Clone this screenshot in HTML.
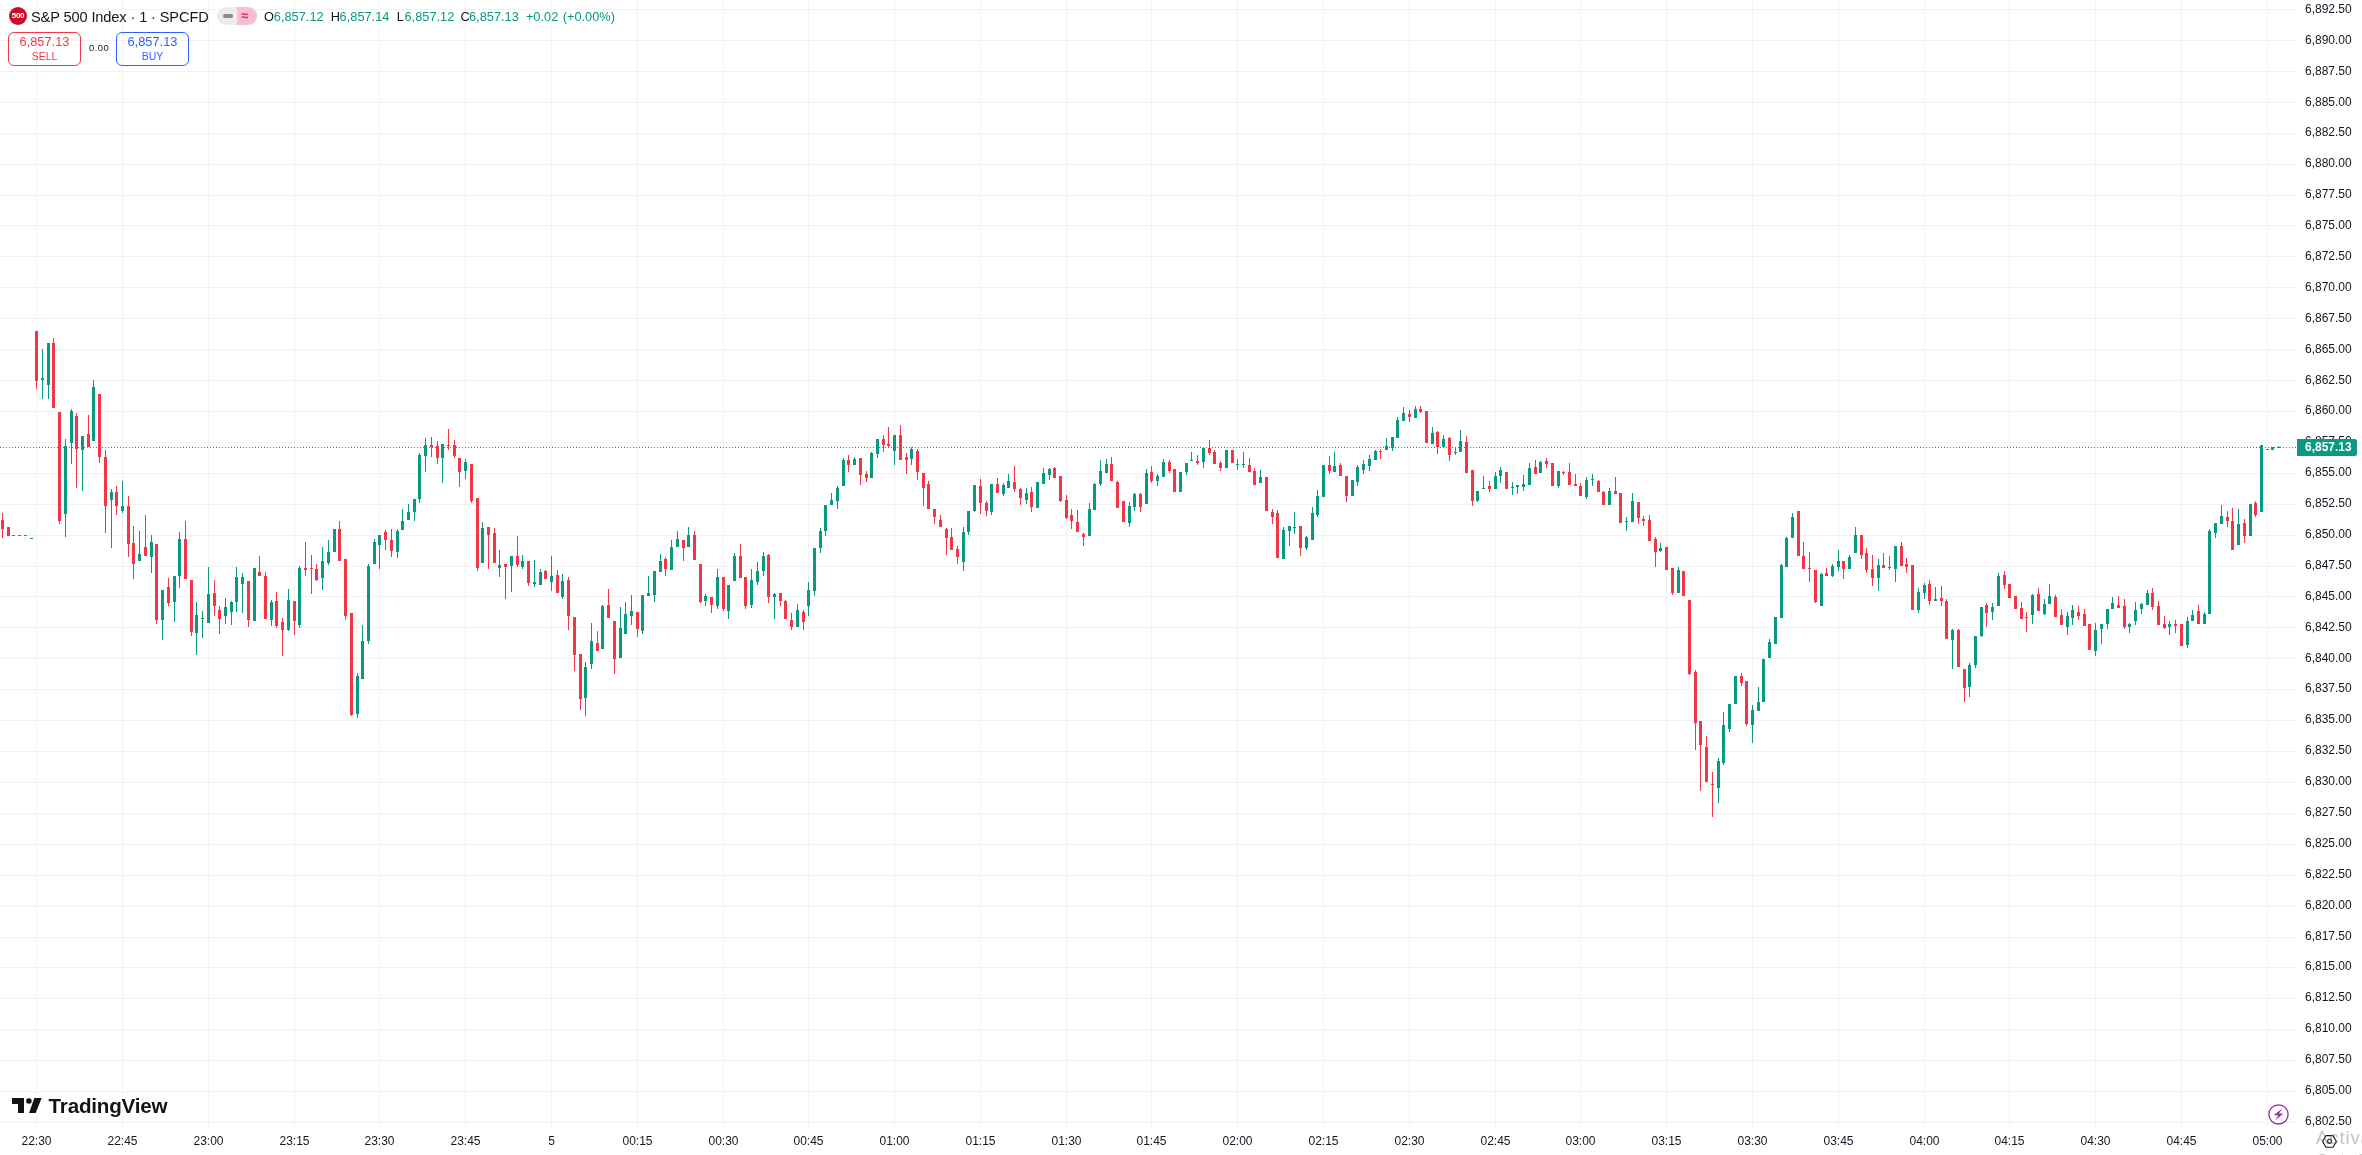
<!DOCTYPE html>
<html><head><meta charset="utf-8"><title>S&amp;P 500 Index chart</title><style>
*{margin:0;padding:0;box-sizing:border-box}
html,body{width:2362px;height:1155px;overflow:hidden;background:#fff}
body{position:relative;font-family:"Liberation Sans",Arial,sans-serif;color:#131722}
svg{position:absolute;left:0;top:0;will-change:transform}
svg text{shape-rendering:auto}
.ax{font-family:"Liberation Sans",Arial,sans-serif;font-size:12px;fill:#131722}
.logo{font-family:"Liberation Sans",Arial,sans-serif;font-weight:bold;font-size:20.6px;fill:#131313;letter-spacing:-0.2px}
.act{font-family:"Liberation Sans",Arial,sans-serif;font-size:18.5px;letter-spacing:0.9px;fill:rgba(110,110,110,0.42)}
.act2{font-family:"Liberation Sans",Arial,sans-serif;font-size:14px;letter-spacing:0.3px;fill:rgba(110,110,110,0.42)}
.lg{position:absolute;white-space:nowrap;line-height:1;will-change:transform}
#logo500{position:absolute;left:9px;top:7px;width:18px;height:18px;border-radius:50%;background:#c8102e;color:#fff;font-size:8px;font-weight:bold;text-align:center;line-height:18px;letter-spacing:-0.3px}
#title{left:31px;top:10px;font-size:14.6px;letter-spacing:-0.12px;color:#131722}
#pill{position:absolute;left:217px;top:7px;width:40px;height:18px;border-radius:9px;overflow:hidden;background:#ececec}
#pill .r{position:absolute;left:20px;top:0;width:20px;height:18px;background:#f7bdd4}
#pill .m{position:absolute;left:6px;top:7px;width:10px;height:3.5px;border-radius:2px;background:#8a8a8a}
#pill .a{position:absolute;left:24px;top:1px;font-size:13px;color:#e0196b;font-weight:bold}
.oh{position:absolute;top:10px;font-size:12.8px;line-height:13px;color:#131722;white-space:nowrap}
.oh.v{color:#089981}
.box{position:absolute;top:32px;width:73px;height:34px;border:1px solid;border-radius:6px;text-align:center}
.box .v{position:absolute;left:0;right:0;top:1px;font-size:12.8px}
.box .t{position:absolute;left:0;right:0;top:17px;font-size:10.5px}
#sell{left:8px;border-color:#f23645;color:#f23645}
#buy{left:116px;border-color:#2962ff;color:#2962ff}
#spread{left:89px;top:42.8px;font-size:9.4px;letter-spacing:0.45px;color:#131722}
</style></head>
<body>
<svg width="2362" height="1155" viewBox="0 0 2362 1155" shape-rendering="crispEdges"><g fill="#f2f2f2"><rect x="0" y="1122" width="2296" height="1"/><rect x="0" y="1091" width="2296" height="1"/><rect x="0" y="1060" width="2296" height="1"/><rect x="0" y="1029" width="2296" height="1"/><rect x="0" y="998" width="2296" height="1"/><rect x="0" y="967" width="2296" height="1"/><rect x="0" y="937" width="2296" height="1"/><rect x="0" y="906" width="2296" height="1"/><rect x="0" y="875" width="2296" height="1"/><rect x="0" y="844" width="2296" height="1"/><rect x="0" y="813" width="2296" height="1"/><rect x="0" y="782" width="2296" height="1"/><rect x="0" y="751" width="2296" height="1"/><rect x="0" y="720" width="2296" height="1"/><rect x="0" y="689" width="2296" height="1"/><rect x="0" y="658" width="2296" height="1"/><rect x="0" y="627" width="2296" height="1"/><rect x="0" y="596" width="2296" height="1"/><rect x="0" y="566" width="2296" height="1"/><rect x="0" y="535" width="2296" height="1"/><rect x="0" y="504" width="2296" height="1"/><rect x="0" y="473" width="2296" height="1"/><rect x="0" y="442" width="2296" height="1"/><rect x="0" y="411" width="2296" height="1"/><rect x="0" y="380" width="2296" height="1"/><rect x="0" y="349" width="2296" height="1"/><rect x="0" y="318" width="2296" height="1"/><rect x="0" y="287" width="2296" height="1"/><rect x="0" y="256" width="2296" height="1"/><rect x="0" y="225" width="2296" height="1"/><rect x="0" y="195" width="2296" height="1"/><rect x="0" y="164" width="2296" height="1"/><rect x="0" y="133" width="2296" height="1"/><rect x="0" y="102" width="2296" height="1"/><rect x="0" y="71" width="2296" height="1"/><rect x="0" y="40" width="2296" height="1"/><rect x="0" y="9" width="2296" height="1"/><rect x="36" y="0" width="1" height="1127"/><rect x="122" y="0" width="1" height="1127"/><rect x="208" y="0" width="1" height="1127"/><rect x="294" y="0" width="1" height="1127"/><rect x="379" y="0" width="1" height="1127"/><rect x="465" y="0" width="1" height="1127"/><rect x="551" y="0" width="1" height="1127"/><rect x="637" y="0" width="1" height="1127"/><rect x="723" y="0" width="1" height="1127"/><rect x="808" y="0" width="1" height="1127"/><rect x="894" y="0" width="1" height="1127"/><rect x="980" y="0" width="1" height="1127"/><rect x="1066" y="0" width="1" height="1127"/><rect x="1151" y="0" width="1" height="1127"/><rect x="1237" y="0" width="1" height="1127"/><rect x="1323" y="0" width="1" height="1127"/><rect x="1409" y="0" width="1" height="1127"/><rect x="1495" y="0" width="1" height="1127"/><rect x="1580" y="0" width="1" height="1127"/><rect x="1666" y="0" width="1" height="1127"/><rect x="1752" y="0" width="1" height="1127"/><rect x="1838" y="0" width="1" height="1127"/><rect x="1924" y="0" width="1" height="1127"/><rect x="2009" y="0" width="1" height="1127"/><rect x="2095" y="0" width="1" height="1127"/><rect x="2181" y="0" width="1" height="1127"/><rect x="2267" y="0" width="1" height="1127"/></g><line x1="0" y1="447.5" x2="2296" y2="447.5" stroke="#089981" stroke-width="1" stroke-dasharray="1 2"/><g fill="#089981"><rect x="25" y="535" width="1" height="1"/><rect x="24" y="535" width="3" height="1"/><rect x="31" y="538" width="1" height="1"/><rect x="30" y="538" width="3" height="1"/><rect x="42" y="349" width="1" height="50"/><rect x="41" y="378" width="3" height="2"/><rect x="48" y="343" width="1" height="56"/><rect x="47" y="343" width="3" height="42"/><rect x="65" y="439" width="1" height="98"/><rect x="64" y="446" width="3" height="68"/><rect x="71" y="409" width="1" height="55"/><rect x="70" y="411" width="3" height="32"/><rect x="82" y="436" width="1" height="55"/><rect x="81" y="436" width="3" height="14"/><rect x="93" y="380" width="1" height="61"/><rect x="92" y="387" width="3" height="54"/><rect x="111" y="489" width="1" height="59"/><rect x="110" y="492" width="3" height="8"/><rect x="122" y="481" width="1" height="32"/><rect x="121" y="506" width="3" height="5"/><rect x="139" y="531" width="1" height="30"/><rect x="138" y="554" width="3" height="7"/><rect x="151" y="535" width="1" height="38"/><rect x="150" y="542" width="3" height="15"/><rect x="162" y="590" width="1" height="50"/><rect x="161" y="590" width="3" height="30"/><rect x="174" y="576" width="1" height="46"/><rect x="173" y="576" width="3" height="26"/><rect x="179" y="532" width="1" height="56"/><rect x="178" y="539" width="3" height="37"/><rect x="196" y="602" width="1" height="53"/><rect x="195" y="615" width="3" height="18"/><rect x="202" y="611" width="1" height="27"/><rect x="201" y="618" width="3" height="1"/><rect x="208" y="567" width="1" height="56"/><rect x="207" y="594" width="3" height="29"/><rect x="225" y="598" width="1" height="26"/><rect x="224" y="607" width="3" height="9"/><rect x="231" y="601" width="1" height="24"/><rect x="230" y="602" width="3" height="10"/><rect x="236" y="567" width="1" height="45"/><rect x="235" y="577" width="3" height="25"/><rect x="242" y="573" width="1" height="40"/><rect x="241" y="577" width="3" height="7"/><rect x="254" y="568" width="1" height="53"/><rect x="253" y="568" width="3" height="53"/><rect x="271" y="600" width="1" height="26"/><rect x="270" y="602" width="3" height="18"/><rect x="288" y="589" width="1" height="42"/><rect x="287" y="600" width="3" height="30"/><rect x="299" y="566" width="1" height="62"/><rect x="298" y="568" width="3" height="57"/><rect x="322" y="547" width="1" height="43"/><rect x="321" y="561" width="3" height="17"/><rect x="328" y="540" width="1" height="25"/><rect x="327" y="552" width="3" height="11"/><rect x="334" y="529" width="1" height="23"/><rect x="333" y="529" width="3" height="23"/><rect x="357" y="673" width="1" height="45"/><rect x="356" y="676" width="3" height="38"/><rect x="362" y="625" width="1" height="54"/><rect x="361" y="641" width="3" height="38"/><rect x="368" y="564" width="1" height="80"/><rect x="367" y="566" width="3" height="75"/><rect x="374" y="539" width="1" height="25"/><rect x="373" y="542" width="3" height="22"/><rect x="379" y="535" width="1" height="34"/><rect x="378" y="535" width="3" height="10"/><rect x="397" y="529" width="1" height="29"/><rect x="396" y="531" width="3" height="21"/><rect x="402" y="509" width="1" height="21"/><rect x="401" y="521" width="3" height="9"/><rect x="408" y="504" width="1" height="16"/><rect x="407" y="512" width="3" height="8"/><rect x="414" y="499" width="1" height="22"/><rect x="413" y="499" width="3" height="13"/><rect x="419" y="453" width="1" height="50"/><rect x="418" y="455" width="3" height="44"/><rect x="425" y="438" width="1" height="34"/><rect x="424" y="445" width="3" height="11"/><rect x="442" y="444" width="1" height="39"/><rect x="441" y="444" width="3" height="14"/><rect x="465" y="459" width="1" height="20"/><rect x="464" y="462" width="3" height="9"/><rect x="482" y="522" width="1" height="41"/><rect x="481" y="528" width="3" height="35"/><rect x="499" y="550" width="1" height="27"/><rect x="498" y="565" width="3" height="3"/><rect x="511" y="556" width="1" height="36"/><rect x="510" y="556" width="3" height="10"/><rect x="522" y="555" width="1" height="14"/><rect x="521" y="561" width="3" height="6"/><rect x="534" y="560" width="1" height="27"/><rect x="533" y="582" width="3" height="2"/><rect x="540" y="569" width="1" height="16"/><rect x="539" y="572" width="3" height="13"/><rect x="551" y="556" width="1" height="35"/><rect x="550" y="576" width="3" height="6"/><rect x="562" y="574" width="1" height="25"/><rect x="561" y="581" width="3" height="16"/><rect x="585" y="662" width="1" height="54"/><rect x="584" y="667" width="3" height="31"/><rect x="591" y="623" width="1" height="46"/><rect x="590" y="641" width="3" height="23"/><rect x="602" y="605" width="1" height="44"/><rect x="601" y="606" width="3" height="43"/><rect x="620" y="607" width="1" height="51"/><rect x="619" y="628" width="3" height="30"/><rect x="625" y="602" width="1" height="32"/><rect x="624" y="614" width="3" height="20"/><rect x="631" y="595" width="1" height="30"/><rect x="630" y="611" width="3" height="5"/><rect x="642" y="595" width="1" height="39"/><rect x="641" y="595" width="3" height="36"/><rect x="648" y="576" width="1" height="20"/><rect x="647" y="593" width="3" height="3"/><rect x="654" y="571" width="1" height="31"/><rect x="653" y="571" width="3" height="24"/><rect x="660" y="554" width="1" height="18"/><rect x="659" y="561" width="3" height="11"/><rect x="671" y="540" width="1" height="30"/><rect x="670" y="547" width="3" height="23"/><rect x="677" y="531" width="1" height="16"/><rect x="676" y="539" width="3" height="8"/><rect x="688" y="527" width="1" height="20"/><rect x="687" y="535" width="3" height="12"/><rect x="705" y="594" width="1" height="12"/><rect x="704" y="596" width="3" height="5"/><rect x="717" y="569" width="1" height="40"/><rect x="716" y="577" width="3" height="29"/><rect x="728" y="585" width="1" height="34"/><rect x="727" y="585" width="3" height="26"/><rect x="734" y="553" width="1" height="28"/><rect x="733" y="556" width="3" height="25"/><rect x="751" y="569" width="1" height="39"/><rect x="750" y="580" width="3" height="25"/><rect x="757" y="562" width="1" height="23"/><rect x="756" y="571" width="3" height="11"/><rect x="763" y="552" width="1" height="24"/><rect x="762" y="556" width="3" height="15"/><rect x="774" y="593" width="1" height="26"/><rect x="773" y="594" width="3" height="3"/><rect x="797" y="604" width="1" height="23"/><rect x="796" y="610" width="3" height="17"/><rect x="808" y="582" width="1" height="34"/><rect x="807" y="590" width="3" height="16"/><rect x="814" y="548" width="1" height="48"/><rect x="813" y="548" width="3" height="43"/><rect x="820" y="528" width="1" height="25"/><rect x="819" y="531" width="3" height="17"/><rect x="825" y="505" width="1" height="31"/><rect x="824" y="505" width="3" height="26"/><rect x="831" y="493" width="1" height="12"/><rect x="830" y="500" width="3" height="5"/><rect x="837" y="486" width="1" height="23"/><rect x="836" y="488" width="3" height="13"/><rect x="843" y="458" width="1" height="28"/><rect x="842" y="460" width="3" height="26"/><rect x="854" y="457" width="1" height="8"/><rect x="853" y="459" width="3" height="6"/><rect x="871" y="452" width="1" height="26"/><rect x="870" y="453" width="3" height="25"/><rect x="877" y="439" width="1" height="19"/><rect x="876" y="439" width="3" height="15"/><rect x="894" y="435" width="1" height="30"/><rect x="893" y="435" width="3" height="16"/><rect x="911" y="447" width="1" height="18"/><rect x="910" y="449" width="3" height="10"/><rect x="963" y="527" width="1" height="44"/><rect x="962" y="532" width="3" height="30"/><rect x="968" y="511" width="1" height="24"/><rect x="967" y="511" width="3" height="21"/><rect x="974" y="485" width="1" height="27"/><rect x="973" y="485" width="3" height="26"/><rect x="991" y="484" width="1" height="31"/><rect x="990" y="484" width="3" height="28"/><rect x="1003" y="483" width="1" height="13"/><rect x="1002" y="485" width="3" height="9"/><rect x="1008" y="474" width="1" height="14"/><rect x="1007" y="481" width="3" height="7"/><rect x="1026" y="488" width="1" height="16"/><rect x="1025" y="493" width="3" height="7"/><rect x="1037" y="482" width="1" height="26"/><rect x="1036" y="482" width="3" height="26"/><rect x="1043" y="468" width="1" height="16"/><rect x="1042" y="473" width="3" height="11"/><rect x="1049" y="468" width="1" height="12"/><rect x="1048" y="469" width="3" height="6"/><rect x="1089" y="503" width="1" height="33"/><rect x="1088" y="509" width="3" height="27"/><rect x="1094" y="483" width="1" height="27"/><rect x="1093" y="484" width="3" height="26"/><rect x="1100" y="460" width="1" height="26"/><rect x="1099" y="471" width="3" height="13"/><rect x="1106" y="459" width="1" height="14"/><rect x="1105" y="464" width="3" height="9"/><rect x="1129" y="502" width="1" height="25"/><rect x="1128" y="506" width="3" height="17"/><rect x="1134" y="493" width="1" height="18"/><rect x="1133" y="494" width="3" height="13"/><rect x="1146" y="469" width="1" height="35"/><rect x="1145" y="473" width="3" height="31"/><rect x="1157" y="474" width="1" height="12"/><rect x="1156" y="476" width="3" height="5"/><rect x="1163" y="459" width="1" height="18"/><rect x="1162" y="462" width="3" height="15"/><rect x="1180" y="472" width="1" height="20"/><rect x="1179" y="472" width="3" height="20"/><rect x="1186" y="463" width="1" height="12"/><rect x="1185" y="463" width="3" height="9"/><rect x="1191" y="452" width="1" height="9"/><rect x="1190" y="460" width="3" height="1"/><rect x="1203" y="448" width="1" height="20"/><rect x="1202" y="448" width="3" height="14"/><rect x="1226" y="450" width="1" height="18"/><rect x="1225" y="450" width="3" height="18"/><rect x="1237" y="459" width="1" height="11"/><rect x="1236" y="464" width="3" height="1"/><rect x="1243" y="452" width="1" height="16"/><rect x="1242" y="464" width="3" height="1"/><rect x="1260" y="470" width="1" height="13"/><rect x="1259" y="477" width="3" height="6"/><rect x="1283" y="527" width="1" height="32"/><rect x="1282" y="530" width="3" height="29"/><rect x="1289" y="526" width="1" height="20"/><rect x="1288" y="526" width="3" height="5"/><rect x="1294" y="512" width="1" height="22"/><rect x="1293" y="527" width="3" height="1"/><rect x="1306" y="536" width="1" height="14"/><rect x="1305" y="537" width="3" height="11"/><rect x="1312" y="507" width="1" height="33"/><rect x="1311" y="513" width="3" height="27"/><rect x="1317" y="490" width="1" height="27"/><rect x="1316" y="496" width="3" height="19"/><rect x="1323" y="465" width="1" height="32"/><rect x="1322" y="465" width="3" height="32"/><rect x="1334" y="452" width="1" height="20"/><rect x="1333" y="466" width="3" height="6"/><rect x="1352" y="480" width="1" height="16"/><rect x="1351" y="480" width="3" height="16"/><rect x="1357" y="465" width="1" height="21"/><rect x="1356" y="467" width="3" height="15"/><rect x="1363" y="460" width="1" height="14"/><rect x="1362" y="464" width="3" height="6"/><rect x="1369" y="455" width="1" height="16"/><rect x="1368" y="459" width="3" height="7"/><rect x="1375" y="450" width="1" height="10"/><rect x="1374" y="451" width="3" height="9"/><rect x="1386" y="438" width="1" height="12"/><rect x="1385" y="446" width="3" height="4"/><rect x="1392" y="437" width="1" height="14"/><rect x="1391" y="437" width="3" height="11"/><rect x="1397" y="417" width="1" height="21"/><rect x="1396" y="420" width="3" height="18"/><rect x="1403" y="407" width="1" height="14"/><rect x="1402" y="413" width="3" height="8"/><rect x="1415" y="406" width="1" height="12"/><rect x="1414" y="409" width="3" height="9"/><rect x="1432" y="427" width="1" height="17"/><rect x="1431" y="433" width="3" height="11"/><rect x="1443" y="435" width="1" height="12"/><rect x="1442" y="439" width="3" height="8"/><rect x="1455" y="447" width="1" height="8"/><rect x="1454" y="452" width="3" height="1"/><rect x="1460" y="430" width="1" height="22"/><rect x="1459" y="441" width="3" height="11"/><rect x="1477" y="491" width="1" height="11"/><rect x="1476" y="491" width="3" height="10"/><rect x="1483" y="476" width="1" height="13"/><rect x="1482" y="488" width="3" height="1"/><rect x="1495" y="472" width="1" height="17"/><rect x="1494" y="476" width="3" height="13"/><rect x="1500" y="467" width="1" height="16"/><rect x="1499" y="470" width="3" height="6"/><rect x="1512" y="482" width="1" height="13"/><rect x="1511" y="487" width="3" height="1"/><rect x="1517" y="485" width="1" height="9"/><rect x="1516" y="485" width="3" height="2"/><rect x="1523" y="475" width="1" height="16"/><rect x="1522" y="484" width="3" height="3"/><rect x="1529" y="463" width="1" height="22"/><rect x="1528" y="468" width="3" height="17"/><rect x="1540" y="461" width="1" height="12"/><rect x="1539" y="462" width="3" height="11"/><rect x="1558" y="471" width="1" height="17"/><rect x="1557" y="471" width="3" height="15"/><rect x="1586" y="477" width="1" height="22"/><rect x="1585" y="480" width="3" height="17"/><rect x="1592" y="474" width="1" height="12"/><rect x="1591" y="479" width="3" height="1"/><rect x="1609" y="488" width="1" height="17"/><rect x="1608" y="491" width="3" height="14"/><rect x="1626" y="517" width="1" height="14"/><rect x="1625" y="521" width="3" height="1"/><rect x="1632" y="493" width="1" height="29"/><rect x="1631" y="501" width="3" height="21"/><rect x="1660" y="543" width="1" height="9"/><rect x="1659" y="548" width="3" height="3"/><rect x="1678" y="567" width="1" height="26"/><rect x="1677" y="570" width="3" height="23"/><rect x="1718" y="758" width="1" height="45"/><rect x="1717" y="761" width="3" height="27"/><rect x="1723" y="712" width="1" height="53"/><rect x="1722" y="725" width="3" height="38"/><rect x="1729" y="704" width="1" height="28"/><rect x="1728" y="704" width="3" height="25"/><rect x="1735" y="676" width="1" height="28"/><rect x="1734" y="676" width="3" height="28"/><rect x="1752" y="705" width="1" height="38"/><rect x="1751" y="710" width="3" height="15"/><rect x="1758" y="687" width="1" height="24"/><rect x="1757" y="702" width="3" height="9"/><rect x="1763" y="659" width="1" height="43"/><rect x="1762" y="659" width="3" height="43"/><rect x="1769" y="639" width="1" height="19"/><rect x="1768" y="642" width="3" height="16"/><rect x="1775" y="617" width="1" height="27"/><rect x="1774" y="617" width="3" height="27"/><rect x="1781" y="564" width="1" height="54"/><rect x="1780" y="565" width="3" height="53"/><rect x="1786" y="537" width="1" height="30"/><rect x="1785" y="538" width="3" height="29"/><rect x="1792" y="513" width="1" height="25"/><rect x="1791" y="517" width="3" height="21"/><rect x="1821" y="573" width="1" height="33"/><rect x="1820" y="574" width="3" height="32"/><rect x="1832" y="564" width="1" height="13"/><rect x="1831" y="566" width="3" height="10"/><rect x="1838" y="550" width="1" height="21"/><rect x="1837" y="561" width="3" height="6"/><rect x="1849" y="555" width="1" height="14"/><rect x="1848" y="557" width="3" height="12"/><rect x="1855" y="527" width="1" height="26"/><rect x="1854" y="535" width="3" height="18"/><rect x="1878" y="559" width="1" height="32"/><rect x="1877" y="565" width="3" height="13"/><rect x="1889" y="556" width="1" height="14"/><rect x="1888" y="567" width="3" height="1"/><rect x="1895" y="546" width="1" height="36"/><rect x="1894" y="546" width="3" height="23"/><rect x="1918" y="588" width="1" height="25"/><rect x="1917" y="592" width="3" height="18"/><rect x="1924" y="583" width="1" height="16"/><rect x="1923" y="585" width="3" height="8"/><rect x="1935" y="587" width="1" height="14"/><rect x="1934" y="599" width="3" height="2"/><rect x="1952" y="629" width="1" height="40"/><rect x="1951" y="630" width="3" height="10"/><rect x="1969" y="663" width="1" height="34"/><rect x="1968" y="665" width="3" height="22"/><rect x="1975" y="636" width="1" height="32"/><rect x="1974" y="636" width="3" height="29"/><rect x="1981" y="607" width="1" height="30"/><rect x="1980" y="607" width="3" height="29"/><rect x="1992" y="603" width="1" height="17"/><rect x="1991" y="607" width="3" height="5"/><rect x="1998" y="573" width="1" height="33"/><rect x="1997" y="576" width="3" height="30"/><rect x="2032" y="594" width="1" height="30"/><rect x="2031" y="595" width="3" height="20"/><rect x="2044" y="599" width="1" height="16"/><rect x="2043" y="604" width="3" height="10"/><rect x="2049" y="584" width="1" height="20"/><rect x="2048" y="596" width="3" height="8"/><rect x="2067" y="612" width="1" height="23"/><rect x="2066" y="616" width="3" height="11"/><rect x="2072" y="605" width="1" height="20"/><rect x="2071" y="610" width="3" height="8"/><rect x="2095" y="623" width="1" height="33"/><rect x="2094" y="630" width="3" height="21"/><rect x="2101" y="624" width="1" height="20"/><rect x="2100" y="624" width="3" height="5"/><rect x="2107" y="609" width="1" height="20"/><rect x="2106" y="609" width="3" height="15"/><rect x="2112" y="597" width="1" height="12"/><rect x="2111" y="603" width="3" height="6"/><rect x="2129" y="623" width="1" height="10"/><rect x="2128" y="624" width="3" height="3"/><rect x="2135" y="602" width="1" height="23"/><rect x="2134" y="610" width="3" height="11"/><rect x="2141" y="603" width="1" height="11"/><rect x="2140" y="604" width="3" height="5"/><rect x="2147" y="590" width="1" height="15"/><rect x="2146" y="593" width="3" height="12"/><rect x="2169" y="621" width="1" height="14"/><rect x="2168" y="624" width="3" height="3"/><rect x="2187" y="617" width="1" height="31"/><rect x="2186" y="621" width="3" height="24"/><rect x="2192" y="610" width="1" height="11"/><rect x="2191" y="615" width="3" height="6"/><rect x="2204" y="612" width="1" height="12"/><rect x="2203" y="614" width="3" height="10"/><rect x="2209" y="529" width="1" height="85"/><rect x="2208" y="531" width="3" height="83"/><rect x="2215" y="523" width="1" height="15"/><rect x="2214" y="523" width="3" height="10"/><rect x="2221" y="505" width="1" height="19"/><rect x="2220" y="516" width="3" height="8"/><rect x="2238" y="509" width="1" height="36"/><rect x="2237" y="524" width="3" height="21"/><rect x="2250" y="504" width="1" height="32"/><rect x="2249" y="504" width="3" height="32"/><rect x="2261" y="445" width="1" height="67"/><rect x="2260" y="445" width="3" height="67"/><rect x="2267" y="449" width="1" height="1"/><rect x="2266" y="449" width="3" height="1"/><rect x="2272" y="447" width="1" height="3"/><rect x="2271" y="447" width="3" height="3"/><rect x="2278" y="446" width="1" height="2"/><rect x="2277" y="447" width="3" height="1"/></g><g fill="#F23645"><rect x="2" y="513" width="1" height="25"/><rect x="1" y="520" width="3" height="9"/><rect x="8" y="527" width="1" height="9"/><rect x="7" y="527" width="3" height="9"/><rect x="13" y="535" width="1" height="1"/><rect x="12" y="535" width="3" height="1"/><rect x="19" y="535" width="1" height="1"/><rect x="18" y="535" width="3" height="1"/><rect x="36" y="331" width="1" height="58"/><rect x="35" y="331" width="3" height="50"/><rect x="53" y="338" width="1" height="70"/><rect x="52" y="343" width="3" height="65"/><rect x="59" y="412" width="1" height="112"/><rect x="58" y="412" width="3" height="109"/><rect x="76" y="413" width="1" height="75"/><rect x="75" y="416" width="3" height="33"/><rect x="88" y="415" width="1" height="32"/><rect x="87" y="434" width="3" height="13"/><rect x="99" y="394" width="1" height="69"/><rect x="98" y="394" width="3" height="63"/><rect x="105" y="450" width="1" height="83"/><rect x="104" y="457" width="3" height="49"/><rect x="116" y="486" width="1" height="29"/><rect x="115" y="492" width="3" height="14"/><rect x="128" y="496" width="1" height="61"/><rect x="127" y="506" width="3" height="38"/><rect x="133" y="526" width="1" height="53"/><rect x="132" y="543" width="3" height="21"/><rect x="145" y="515" width="1" height="41"/><rect x="144" y="547" width="3" height="9"/><rect x="156" y="544" width="1" height="80"/><rect x="155" y="544" width="3" height="76"/><rect x="168" y="578" width="1" height="28"/><rect x="167" y="587" width="3" height="16"/><rect x="185" y="521" width="1" height="58"/><rect x="184" y="539" width="3" height="40"/><rect x="191" y="580" width="1" height="56"/><rect x="190" y="580" width="3" height="52"/><rect x="214" y="580" width="1" height="36"/><rect x="213" y="593" width="3" height="13"/><rect x="219" y="606" width="1" height="28"/><rect x="218" y="610" width="3" height="9"/><rect x="248" y="581" width="1" height="46"/><rect x="247" y="581" width="3" height="39"/><rect x="259" y="556" width="1" height="20"/><rect x="258" y="572" width="3" height="4"/><rect x="265" y="572" width="1" height="47"/><rect x="264" y="576" width="3" height="43"/><rect x="276" y="592" width="1" height="36"/><rect x="275" y="601" width="3" height="25"/><rect x="282" y="618" width="1" height="38"/><rect x="281" y="622" width="3" height="8"/><rect x="294" y="601" width="1" height="34"/><rect x="293" y="601" width="3" height="20"/><rect x="305" y="542" width="1" height="34"/><rect x="304" y="568" width="3" height="2"/><rect x="311" y="555" width="1" height="39"/><rect x="310" y="568" width="3" height="1"/><rect x="316" y="564" width="1" height="17"/><rect x="315" y="569" width="3" height="11"/><rect x="339" y="521" width="1" height="40"/><rect x="338" y="529" width="3" height="32"/><rect x="345" y="559" width="1" height="61"/><rect x="344" y="559" width="3" height="57"/><rect x="351" y="613" width="1" height="103"/><rect x="350" y="613" width="3" height="102"/><rect x="385" y="530" width="1" height="20"/><rect x="384" y="532" width="3" height="8"/><rect x="391" y="529" width="1" height="28"/><rect x="390" y="540" width="3" height="11"/><rect x="431" y="437" width="1" height="20"/><rect x="430" y="445" width="3" height="2"/><rect x="437" y="441" width="1" height="23"/><rect x="436" y="446" width="3" height="12"/><rect x="448" y="429" width="1" height="21"/><rect x="447" y="445" width="3" height="1"/><rect x="454" y="440" width="1" height="18"/><rect x="453" y="445" width="3" height="11"/><rect x="459" y="458" width="1" height="29"/><rect x="458" y="458" width="3" height="14"/><rect x="471" y="464" width="1" height="39"/><rect x="470" y="464" width="3" height="37"/><rect x="477" y="498" width="1" height="73"/><rect x="476" y="498" width="3" height="70"/><rect x="488" y="527" width="1" height="42"/><rect x="487" y="527" width="3" height="8"/><rect x="494" y="528" width="1" height="35"/><rect x="493" y="533" width="3" height="30"/><rect x="505" y="564" width="1" height="35"/><rect x="504" y="564" width="3" height="3"/><rect x="517" y="536" width="1" height="31"/><rect x="516" y="556" width="3" height="9"/><rect x="528" y="561" width="1" height="25"/><rect x="527" y="561" width="3" height="22"/><rect x="545" y="570" width="1" height="9"/><rect x="544" y="571" width="3" height="8"/><rect x="557" y="570" width="1" height="23"/><rect x="556" y="575" width="3" height="18"/><rect x="568" y="577" width="1" height="53"/><rect x="567" y="580" width="3" height="36"/><rect x="574" y="617" width="1" height="54"/><rect x="573" y="617" width="3" height="38"/><rect x="580" y="654" width="1" height="56"/><rect x="579" y="654" width="3" height="45"/><rect x="597" y="631" width="1" height="20"/><rect x="596" y="643" width="3" height="8"/><rect x="608" y="589" width="1" height="29"/><rect x="607" y="605" width="3" height="13"/><rect x="614" y="621" width="1" height="53"/><rect x="613" y="621" width="3" height="38"/><rect x="637" y="612" width="1" height="25"/><rect x="636" y="612" width="3" height="17"/><rect x="665" y="557" width="1" height="19"/><rect x="664" y="559" width="3" height="10"/><rect x="683" y="540" width="1" height="21"/><rect x="682" y="540" width="3" height="8"/><rect x="694" y="531" width="1" height="29"/><rect x="693" y="535" width="3" height="25"/><rect x="700" y="564" width="1" height="39"/><rect x="699" y="564" width="3" height="38"/><rect x="711" y="597" width="1" height="16"/><rect x="710" y="597" width="3" height="8"/><rect x="723" y="577" width="1" height="34"/><rect x="722" y="577" width="3" height="32"/><rect x="740" y="544" width="1" height="34"/><rect x="739" y="556" width="3" height="22"/><rect x="745" y="577" width="1" height="32"/><rect x="744" y="577" width="3" height="29"/><rect x="768" y="554" width="1" height="49"/><rect x="767" y="555" width="3" height="42"/><rect x="780" y="593" width="1" height="13"/><rect x="779" y="593" width="3" height="8"/><rect x="785" y="600" width="1" height="19"/><rect x="784" y="601" width="3" height="18"/><rect x="791" y="613" width="1" height="17"/><rect x="790" y="620" width="3" height="7"/><rect x="803" y="610" width="1" height="20"/><rect x="802" y="612" width="3" height="10"/><rect x="848" y="455" width="1" height="17"/><rect x="847" y="460" width="3" height="5"/><rect x="860" y="458" width="1" height="27"/><rect x="859" y="458" width="3" height="17"/><rect x="866" y="471" width="1" height="11"/><rect x="865" y="474" width="3" height="4"/><rect x="883" y="435" width="1" height="17"/><rect x="882" y="439" width="3" height="6"/><rect x="888" y="427" width="1" height="20"/><rect x="887" y="444" width="3" height="2"/><rect x="900" y="425" width="1" height="35"/><rect x="899" y="435" width="3" height="25"/><rect x="906" y="453" width="1" height="21"/><rect x="905" y="457" width="3" height="3"/><rect x="917" y="449" width="1" height="31"/><rect x="916" y="451" width="3" height="21"/><rect x="923" y="473" width="1" height="33"/><rect x="922" y="473" width="3" height="15"/><rect x="928" y="481" width="1" height="28"/><rect x="927" y="484" width="3" height="25"/><rect x="934" y="509" width="1" height="15"/><rect x="933" y="509" width="3" height="8"/><rect x="940" y="515" width="1" height="12"/><rect x="939" y="520" width="3" height="7"/><rect x="946" y="528" width="1" height="27"/><rect x="945" y="529" width="3" height="9"/><rect x="951" y="528" width="1" height="22"/><rect x="950" y="537" width="3" height="13"/><rect x="957" y="546" width="1" height="18"/><rect x="956" y="549" width="3" height="8"/><rect x="980" y="479" width="1" height="35"/><rect x="979" y="486" width="3" height="17"/><rect x="986" y="501" width="1" height="15"/><rect x="985" y="503" width="3" height="8"/><rect x="997" y="478" width="1" height="15"/><rect x="996" y="484" width="3" height="9"/><rect x="1014" y="466" width="1" height="26"/><rect x="1013" y="482" width="3" height="7"/><rect x="1020" y="488" width="1" height="17"/><rect x="1019" y="489" width="3" height="9"/><rect x="1031" y="487" width="1" height="25"/><rect x="1030" y="492" width="3" height="15"/><rect x="1054" y="467" width="1" height="11"/><rect x="1053" y="468" width="3" height="10"/><rect x="1060" y="476" width="1" height="26"/><rect x="1059" y="476" width="3" height="25"/><rect x="1066" y="495" width="1" height="24"/><rect x="1065" y="500" width="3" height="18"/><rect x="1071" y="509" width="1" height="20"/><rect x="1070" y="515" width="3" height="6"/><rect x="1077" y="510" width="1" height="22"/><rect x="1076" y="522" width="3" height="10"/><rect x="1083" y="533" width="1" height="13"/><rect x="1082" y="534" width="3" height="3"/><rect x="1111" y="457" width="1" height="24"/><rect x="1110" y="464" width="3" height="17"/><rect x="1117" y="481" width="1" height="27"/><rect x="1116" y="482" width="3" height="26"/><rect x="1123" y="501" width="1" height="21"/><rect x="1122" y="501" width="3" height="21"/><rect x="1140" y="493" width="1" height="19"/><rect x="1139" y="494" width="3" height="13"/><rect x="1151" y="466" width="1" height="17"/><rect x="1150" y="472" width="3" height="9"/><rect x="1169" y="460" width="1" height="13"/><rect x="1168" y="462" width="3" height="9"/><rect x="1174" y="469" width="1" height="23"/><rect x="1173" y="469" width="3" height="23"/><rect x="1197" y="455" width="1" height="10"/><rect x="1196" y="461" width="3" height="2"/><rect x="1209" y="440" width="1" height="15"/><rect x="1208" y="448" width="3" height="5"/><rect x="1214" y="450" width="1" height="14"/><rect x="1213" y="452" width="3" height="12"/><rect x="1220" y="461" width="1" height="10"/><rect x="1219" y="463" width="3" height="5"/><rect x="1232" y="450" width="1" height="13"/><rect x="1231" y="450" width="3" height="13"/><rect x="1249" y="458" width="1" height="14"/><rect x="1248" y="465" width="3" height="7"/><rect x="1254" y="468" width="1" height="17"/><rect x="1253" y="471" width="3" height="14"/><rect x="1266" y="477" width="1" height="34"/><rect x="1265" y="477" width="3" height="34"/><rect x="1272" y="509" width="1" height="15"/><rect x="1271" y="512" width="3" height="5"/><rect x="1277" y="510" width="1" height="48"/><rect x="1276" y="513" width="3" height="45"/><rect x="1300" y="526" width="1" height="30"/><rect x="1299" y="526" width="3" height="22"/><rect x="1329" y="456" width="1" height="18"/><rect x="1328" y="465" width="3" height="6"/><rect x="1340" y="463" width="1" height="13"/><rect x="1339" y="465" width="3" height="11"/><rect x="1346" y="476" width="1" height="26"/><rect x="1345" y="476" width="3" height="20"/><rect x="1380" y="449" width="1" height="10"/><rect x="1379" y="451" width="3" height="1"/><rect x="1409" y="410" width="1" height="12"/><rect x="1408" y="414" width="3" height="3"/><rect x="1420" y="406" width="1" height="7"/><rect x="1419" y="409" width="3" height="3"/><rect x="1426" y="411" width="1" height="32"/><rect x="1425" y="411" width="3" height="32"/><rect x="1437" y="431" width="1" height="23"/><rect x="1436" y="432" width="3" height="15"/><rect x="1449" y="437" width="1" height="24"/><rect x="1448" y="438" width="3" height="17"/><rect x="1466" y="436" width="1" height="37"/><rect x="1465" y="442" width="3" height="31"/><rect x="1472" y="470" width="1" height="36"/><rect x="1471" y="470" width="3" height="31"/><rect x="1489" y="481" width="1" height="11"/><rect x="1488" y="486" width="3" height="3"/><rect x="1506" y="472" width="1" height="17"/><rect x="1505" y="472" width="3" height="17"/><rect x="1535" y="460" width="1" height="14"/><rect x="1534" y="467" width="3" height="7"/><rect x="1546" y="458" width="1" height="10"/><rect x="1545" y="461" width="3" height="3"/><rect x="1552" y="463" width="1" height="23"/><rect x="1551" y="463" width="3" height="23"/><rect x="1563" y="471" width="1" height="4"/><rect x="1562" y="472" width="3" height="1"/><rect x="1569" y="463" width="1" height="22"/><rect x="1568" y="472" width="3" height="13"/><rect x="1575" y="474" width="1" height="12"/><rect x="1574" y="484" width="3" height="2"/><rect x="1580" y="483" width="1" height="13"/><rect x="1579" y="486" width="3" height="10"/><rect x="1598" y="480" width="1" height="12"/><rect x="1597" y="481" width="3" height="11"/><rect x="1603" y="491" width="1" height="14"/><rect x="1602" y="492" width="3" height="13"/><rect x="1615" y="477" width="1" height="17"/><rect x="1614" y="491" width="3" height="3"/><rect x="1620" y="493" width="1" height="30"/><rect x="1619" y="493" width="3" height="30"/><rect x="1638" y="502" width="1" height="22"/><rect x="1637" y="502" width="3" height="16"/><rect x="1643" y="516" width="1" height="10"/><rect x="1642" y="519" width="3" height="2"/><rect x="1649" y="515" width="1" height="26"/><rect x="1648" y="520" width="3" height="21"/><rect x="1655" y="537" width="1" height="30"/><rect x="1654" y="539" width="3" height="13"/><rect x="1666" y="547" width="1" height="23"/><rect x="1665" y="547" width="3" height="23"/><rect x="1672" y="568" width="1" height="27"/><rect x="1671" y="568" width="3" height="25"/><rect x="1683" y="571" width="1" height="25"/><rect x="1682" y="571" width="3" height="25"/><rect x="1689" y="600" width="1" height="75"/><rect x="1688" y="600" width="3" height="74"/><rect x="1695" y="670" width="1" height="80"/><rect x="1694" y="672" width="3" height="51"/><rect x="1700" y="721" width="1" height="70"/><rect x="1699" y="721" width="3" height="24"/><rect x="1706" y="736" width="1" height="46"/><rect x="1705" y="747" width="3" height="35"/><rect x="1712" y="772" width="1" height="45"/><rect x="1711" y="784" width="3" height="1"/><rect x="1741" y="673" width="1" height="13"/><rect x="1740" y="676" width="3" height="7"/><rect x="1746" y="681" width="1" height="45"/><rect x="1745" y="681" width="3" height="43"/><rect x="1798" y="511" width="1" height="45"/><rect x="1797" y="511" width="3" height="45"/><rect x="1803" y="542" width="1" height="27"/><rect x="1802" y="556" width="3" height="13"/><rect x="1809" y="552" width="1" height="30"/><rect x="1808" y="568" width="3" height="1"/><rect x="1815" y="570" width="1" height="33"/><rect x="1814" y="570" width="3" height="32"/><rect x="1826" y="568" width="1" height="8"/><rect x="1825" y="573" width="3" height="3"/><rect x="1843" y="561" width="1" height="18"/><rect x="1842" y="561" width="3" height="8"/><rect x="1861" y="535" width="1" height="24"/><rect x="1860" y="535" width="3" height="20"/><rect x="1866" y="548" width="1" height="25"/><rect x="1865" y="553" width="3" height="17"/><rect x="1872" y="555" width="1" height="31"/><rect x="1871" y="569" width="3" height="9"/><rect x="1883" y="553" width="1" height="15"/><rect x="1882" y="565" width="3" height="3"/><rect x="1901" y="542" width="1" height="24"/><rect x="1900" y="546" width="3" height="20"/><rect x="1906" y="558" width="1" height="15"/><rect x="1905" y="564" width="3" height="3"/><rect x="1912" y="565" width="1" height="45"/><rect x="1911" y="565" width="3" height="45"/><rect x="1929" y="580" width="1" height="25"/><rect x="1928" y="584" width="3" height="17"/><rect x="1941" y="586" width="1" height="20"/><rect x="1940" y="598" width="3" height="3"/><rect x="1946" y="599" width="1" height="40"/><rect x="1945" y="601" width="3" height="38"/><rect x="1958" y="629" width="1" height="38"/><rect x="1957" y="630" width="3" height="37"/><rect x="1964" y="669" width="1" height="33"/><rect x="1963" y="669" width="3" height="19"/><rect x="1986" y="603" width="1" height="24"/><rect x="1985" y="605" width="3" height="8"/><rect x="2004" y="571" width="1" height="18"/><rect x="2003" y="575" width="3" height="10"/><rect x="2009" y="584" width="1" height="14"/><rect x="2008" y="584" width="3" height="14"/><rect x="2015" y="596" width="1" height="13"/><rect x="2014" y="596" width="3" height="13"/><rect x="2021" y="602" width="1" height="17"/><rect x="2020" y="608" width="3" height="11"/><rect x="2026" y="612" width="1" height="20"/><rect x="2025" y="617" width="3" height="1"/><rect x="2038" y="588" width="1" height="23"/><rect x="2037" y="594" width="3" height="17"/><rect x="2055" y="595" width="1" height="22"/><rect x="2054" y="597" width="3" height="20"/><rect x="2061" y="609" width="1" height="16"/><rect x="2060" y="615" width="3" height="10"/><rect x="2078" y="606" width="1" height="14"/><rect x="2077" y="612" width="3" height="4"/><rect x="2084" y="609" width="1" height="17"/><rect x="2083" y="614" width="3" height="12"/><rect x="2089" y="624" width="1" height="26"/><rect x="2088" y="624" width="3" height="26"/><rect x="2118" y="596" width="1" height="12"/><rect x="2117" y="605" width="3" height="3"/><rect x="2124" y="599" width="1" height="30"/><rect x="2123" y="606" width="3" height="21"/><rect x="2152" y="588" width="1" height="22"/><rect x="2151" y="593" width="3" height="14"/><rect x="2158" y="601" width="1" height="24"/><rect x="2157" y="606" width="3" height="19"/><rect x="2164" y="616" width="1" height="13"/><rect x="2163" y="624" width="3" height="4"/><rect x="2175" y="620" width="1" height="13"/><rect x="2174" y="624" width="3" height="2"/><rect x="2181" y="624" width="1" height="22"/><rect x="2180" y="624" width="3" height="22"/><rect x="2198" y="605" width="1" height="19"/><rect x="2197" y="611" width="3" height="13"/><rect x="2227" y="511" width="1" height="16"/><rect x="2226" y="517" width="3" height="4"/><rect x="2232" y="508" width="1" height="42"/><rect x="2231" y="521" width="3" height="29"/><rect x="2244" y="519" width="1" height="24"/><rect x="2243" y="523" width="3" height="13"/><rect x="2255" y="501" width="1" height="16"/><rect x="2254" y="503" width="3" height="12"/></g><g class="ax"><text x="2305" y="1124.84">6,802.50</text><text x="2305" y="1093.95">6,805.00</text><text x="2305" y="1063.07">6,807.50</text><text x="2305" y="1032.18">6,810.00</text><text x="2305" y="1001.29">6,812.50</text><text x="2305" y="970.41">6,815.00</text><text x="2305" y="939.52">6,817.50</text><text x="2305" y="908.63">6,820.00</text><text x="2305" y="877.75">6,822.50</text><text x="2305" y="846.86">6,825.00</text><text x="2305" y="815.97">6,827.50</text><text x="2305" y="785.09">6,830.00</text><text x="2305" y="754.20">6,832.50</text><text x="2305" y="723.31">6,835.00</text><text x="2305" y="692.43">6,837.50</text><text x="2305" y="661.54">6,840.00</text><text x="2305" y="630.65">6,842.50</text><text x="2305" y="599.77">6,845.00</text><text x="2305" y="568.88">6,847.50</text><text x="2305" y="537.99">6,850.00</text><text x="2305" y="507.11">6,852.50</text><text x="2305" y="476.22">6,855.00</text><text x="2305" y="445.33">6,857.50</text><text x="2305" y="414.45">6,860.00</text><text x="2305" y="383.56">6,862.50</text><text x="2305" y="352.67">6,865.00</text><text x="2305" y="321.79">6,867.50</text><text x="2305" y="290.90">6,870.00</text><text x="2305" y="260.01">6,872.50</text><text x="2305" y="229.13">6,875.00</text><text x="2305" y="198.24">6,877.50</text><text x="2305" y="167.35">6,880.00</text><text x="2305" y="136.47">6,882.50</text><text x="2305" y="105.58">6,885.00</text><text x="2305" y="74.69">6,887.50</text><text x="2305" y="43.81">6,890.00</text><text x="2305" y="12.92">6,892.50</text></g><path d="M2297 439 H2354.5 Q2357 439 2357 441.5 V453.5 Q2357 456 2354.5 456 H2297 Z" fill="#089981" shape-rendering="geometricPrecision"/><text class="ax" x="2305" y="450.6" style="fill:#fff;font-weight:bold">6,857.13</text><g class="ax"><text x="36.5" y="1144.8" text-anchor="middle">22:30</text><text x="122.5" y="1144.8" text-anchor="middle">22:45</text><text x="208.5" y="1144.8" text-anchor="middle">23:00</text><text x="294.5" y="1144.8" text-anchor="middle">23:15</text><text x="379.5" y="1144.8" text-anchor="middle">23:30</text><text x="465.5" y="1144.8" text-anchor="middle">23:45</text><text x="551.5" y="1144.8" text-anchor="middle">5</text><text x="637.5" y="1144.8" text-anchor="middle">00:15</text><text x="723.5" y="1144.8" text-anchor="middle">00:30</text><text x="808.5" y="1144.8" text-anchor="middle">00:45</text><text x="894.5" y="1144.8" text-anchor="middle">01:00</text><text x="980.5" y="1144.8" text-anchor="middle">01:15</text><text x="1066.5" y="1144.8" text-anchor="middle">01:30</text><text x="1151.5" y="1144.8" text-anchor="middle">01:45</text><text x="1237.5" y="1144.8" text-anchor="middle">02:00</text><text x="1323.5" y="1144.8" text-anchor="middle">02:15</text><text x="1409.5" y="1144.8" text-anchor="middle">02:30</text><text x="1495.5" y="1144.8" text-anchor="middle">02:45</text><text x="1580.5" y="1144.8" text-anchor="middle">03:00</text><text x="1666.5" y="1144.8" text-anchor="middle">03:15</text><text x="1752.5" y="1144.8" text-anchor="middle">03:30</text><text x="1838.5" y="1144.8" text-anchor="middle">03:45</text><text x="1924.5" y="1144.8" text-anchor="middle">04:00</text><text x="2009.5" y="1144.8" text-anchor="middle">04:15</text><text x="2095.5" y="1144.8" text-anchor="middle">04:30</text><text x="2181.5" y="1144.8" text-anchor="middle">04:45</text><text x="2267.5" y="1144.8" text-anchor="middle">05:00</text></g><rect x="0" y="1094" width="176" height="21" fill="#fff"/><g fill="#131313" shape-rendering="geometricPrecision"><path d="M12 1098 H24 V1113 H18 V1104 H12 Z"/><circle cx="28.9" cy="1101" r="2.8"/><path d="M34.3 1098 H41.7 L35.7 1113 H29.1 Z"/></g><text x="48.6" y="1112.8" class="logo">TradingView</text><g shape-rendering="geometricPrecision"><circle cx="2278.5" cy="1114.4" r="9.6" fill="#fff" stroke="#9c27b0" stroke-width="1.3"/><path d="M2282.3 1108.6 L2273.8 1115.3 L2278.3 1115.3 L2275 1120.4 L2283.3 1113.6 L2278.9 1113.6 Z" fill="#9c27b0"/></g><g fill="none" stroke="#131722" stroke-width="1.1" shape-rendering="geometricPrecision"><path d="M2326 1135.6 H2333 L2336.4 1141.4 L2333 1147.2 H2326 L2322.6 1141.4 Z"/><circle cx="2329.6" cy="1141.3" r="2"/></g><text x="2316" y="1143.6" class="act">Activate Windows</text><text x="2317" y="1163.8" class="act2">Go to Settings to activate Windows.</text></svg>
<div id="logo500">500</div>
<div class="lg" id="title">S&amp;P 500 Index · 1 · SPCFD</div>
<div id="pill"><div class="r"></div><div class="m"></div><div class="a">≈</div></div>
<span class="oh" style="left:264.0px">O</span><span class="oh v" style="left:273.8px">6,857.12</span><span class="oh" style="left:330.7px">H</span><span class="oh v" style="left:339.6px">6,857.14</span><span class="oh" style="left:396.8px">L</span><span class="oh v" style="left:404.5px">6,857.12</span><span class="oh" style="left:460.5px">C</span><span class="oh v" style="left:469.0px">6,857.13</span><span class="oh v" style="left:525.9px">+0.02</span><span class="oh v" style="left:562.7px">(+0.00%)</span>
<div class="box" id="sell"><div class="v">6,857.13</div><div class="t">SELL</div></div>
<div class="lg" id="spread">0.00</div>
<div class="box" id="buy"><div class="v">6,857.13</div><div class="t">BUY</div></div>
</body></html>
